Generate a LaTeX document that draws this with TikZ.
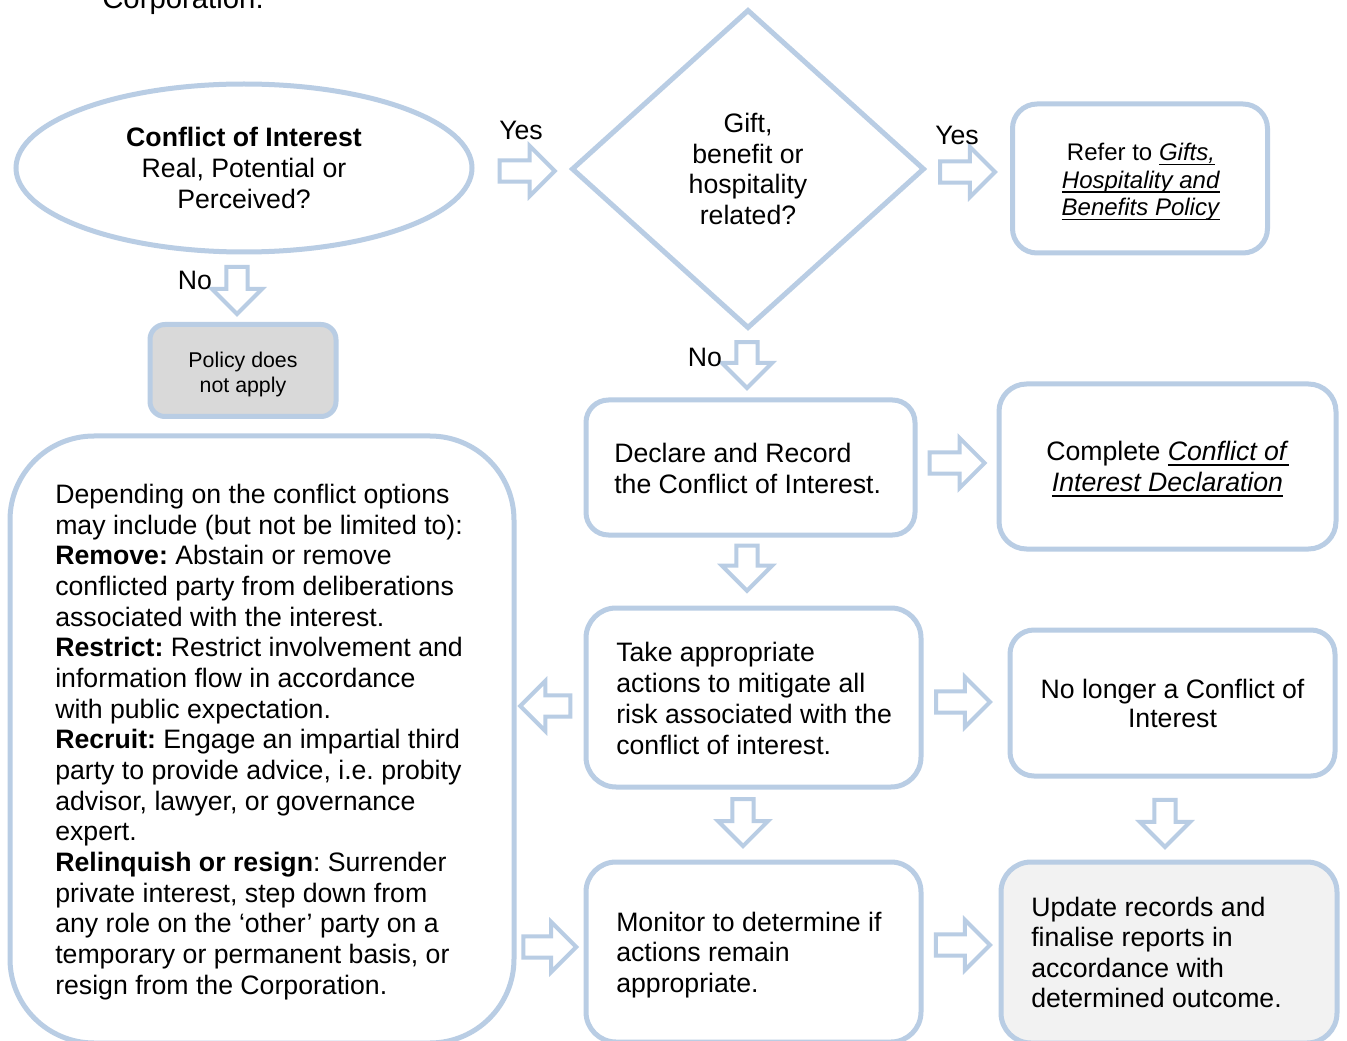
\documentclass[tikz,border=0pt]{standalone}
\usepackage{fontspec}
\setmainfont{Liberation Sans}
\usetikzlibrary{shapes.geometric,shapes.arrows,calc}
\newdimen\pxu \pxu=0.75pt
\definecolor{bl}{RGB}{185,205,228}
\definecolor{gr}{RGB}{217,217,217}
\definecolor{lg}{RGB}{242,242,242}
\newsavebox\ulbox
\newcommand{\ulit}[1]{\sbox\ulbox{\textit{#1}}\rlap{\smash{\rule[-0.19em]{\wd\ulbox}{0.07em}}}\usebox\ulbox}
\frenchspacing
\tikzset{
  box/.style={draw=bl, line width=3.75pt, fill=white, rectangle, inner sep=0pt, align=center},
  txt/.style={inner sep=0pt, anchor=west, align=left},
  ctxt/.style={inner sep=0pt, align=center},
  barrow/.style={shape=single arrow, draw=bl, line width=3pt, fill=white, inner sep=0pt,
    inner ysep=6.4pt, single arrow head extend=10.9pt, minimum width=0pt, anchor=tail},
  lab/.style={inner sep=0pt, font=\fontsize{20}{23}\selectfont},
  fa/.style={font=\fontsize{20}{#1}\selectfont}
}
\begin{document}
\begin{tikzpicture}[x=0.75pt,y=-0.75pt]
\useasboundingbox (0,0) rectangle (1347,1041);
\fill[white] (0,0) rectangle (1347,1041);

\node[anchor=base west, inner sep=0pt, font=\fontsize{22}{26}\selectfont] (corp) at (102,9) {Corporation.};

% nodes
\node[box, shape=ellipse, minimum width=456\pxu, minimum height=168\pxu, fa=23pt] (ell) at (244,168)
  {\textbf{Conflict of Interest}\\Real, Potential or\\Perceived?};
\node[box, shape=diamond, aspect=1.1, minimum width=353\pxu, minimum height=319\pxu, fa=23pt] (dia) at (748,169)
  {Gift,\\benefit or\\hospitality\\related?};
\node[box, rounded corners=24.5\pxu, minimum width=255\pxu, minimum height=149\pxu] (ref) at (1140,178.5) {};
\node[ctxt, font=\fontsize{18}{20.6}\selectfont] (ref-t) at (1141,182)
  {Refer to \ulit{Gifts,}\\\ulit{Hospitality and}\\\ulit{Benefits Policy}};
\node[box, fill=gr, rounded corners=15\pxu, minimum width=186\pxu, minimum height=92\pxu] (pol) at (243,370.5) {};
\node[ctxt, font=\fontsize{16}{18.75}\selectfont] (pol-t) at (243,374)
  {Policy does\\not apply};
\node[box, rounded corners=22.5\pxu, minimum width=329\pxu, minimum height=135\pxu] (decl) at (750.5,467.5) {};
\node[box, rounded corners=27.5\pxu, minimum width=337\pxu, minimum height=165\pxu, fa=23.25pt] (comp) at (1167.5,466.5)
  {Complete \ulit{Conflict of}\\\ulit{Interest Declaration}};
\node[box, rounded corners=30\pxu, minimum width=335\pxu, minimum height=179\pxu] (take) at (753.5,697.5) {};
\node[box, rounded corners=24\pxu, minimum width=325\pxu, minimum height=146\pxu, fa=21.75pt] (nol) at (1172.5,703)
  {No longer a Conflict of\\Interest};
\node[box, rounded corners=84\pxu, minimum width=504\pxu, minimum height=607\pxu] (left) at (262,739.5) {};
\node[box, rounded corners=30\pxu, minimum width=335\pxu, minimum height=180\pxu] (mon) at (753.5,952) {};
\node[box, fill=lg, rounded corners=30\pxu, minimum width=336\pxu, minimum height=181\pxu] (upd) at (1169,952.5) {};

% left-aligned texts
\node[txt, fa=23.25pt] (decl-t) at (614,468.5) {Declare and Record\\the Conflict of Interest.};
\node[txt, fa=23.25pt] (take-t) at (616,698.5) {Take appropriate\\actions to mitigate all\\risk associated with the\\conflict of interest.};
\node[txt, fa=22.75pt] (mon-t) at (616,955) {Monitor to determine if\\actions remain\\appropriate.};
\node[txt, fa=22.75pt] (upd-t) at (1031,952.5) {Update records and\\finalise reports in\\accordance with\\determined outcome.};
\node[txt, fa=23pt] (left-t) at (55,742) {Depending on the conflict options\\
may include (but not be limited to):\\
\textbf{Remove:} Abstain or remove\\
conflicted party from deliberations\\
associated with the interest.\\
\textbf{Restrict:} Restrict involvement and\\
information flow in accordance\\
with public expectation.\\
\textbf{Recruit:} Engage an impartial third\\
party to provide advice, i.e. probity\\
advisor, lawyer, or governance\\
expert.\\
\textbf{Relinquish or resign}: Surrender\\
private interest, step down from\\
any role on the ‘other’ party on a\\
temporary or permanent basis, or\\
resign from the Corporation.};

% block arrows (connectors), placed by their tails
\node[barrow, minimum height=55\pxu] (a1) at ($(ell.east)!0.2775!(ell.east -| dia.west)+(-3,3)$) {};
\node[barrow, minimum height=55\pxu] (a2) at ($(dia.east)!0.169!(dia.east -| ref.west)+(-3,3)$) {};
\node[barrow, rotate=-90, minimum height=47\pxu] (a3) at ($(ell.south)!0.2!(ell.south |- pol.north)+(-7,-3)$) {};
\node[barrow, rotate=-90, minimum height=46\pxu] (a4) at ($(dia.south)!0.181!(dia.south |- decl.north)+(-1,-3)$) {};
\node[barrow, minimum height=55\pxu] (a5) at ($(decl.east)!0.166!(decl.east -| comp.west)+(-3,-4.5)$) {};
\node[barrow, rotate=-90, minimum height=45\pxu] (a6) at ($(decl.south)!0.136!(decl.south |- take.north)+(-3.5,-3)$) {};
\node[barrow, rotate=180, minimum height=50\pxu] (a7) at ($(take.west)!0.212!(take.west -| left.east)+(3,8.5)$) {};
\node[barrow, minimum height=54\pxu] (a8) at ($(take.east)!0.161!(take.east -| nol.west)+(-3,4.5)$) {};
\node[barrow, rotate=-90, minimum height=47\pxu] (a9) at ($(take.south)!0.151!(take.south |- mon.north)+(-10.5,-3)$) {};
\node[barrow, rotate=-90, minimum height=47\pxu] (a10) at ($(nol.south)!0.277!(nol.south |- upd.north)+(-7.5,-3)$) {};
\node[barrow, minimum height=53\pxu] (a11) at ($(mon.west -| left.east)!0.116!(mon.west)+(-3,-5)$) {};
\node[barrow, minimum height=54\pxu] (a12) at ($(mon.east)!0.179!(mon.east -| upd.west)+(-3,-7)$) {};

% labels
\node[lab] (y1) at (521,130) {Yes};
\node[lab] (y2) at (957,135) {Yes};
\node[lab] (n1) at (195,280) {No};
\node[lab] (n2) at (705,357) {No};
\end{tikzpicture}
\end{document}
